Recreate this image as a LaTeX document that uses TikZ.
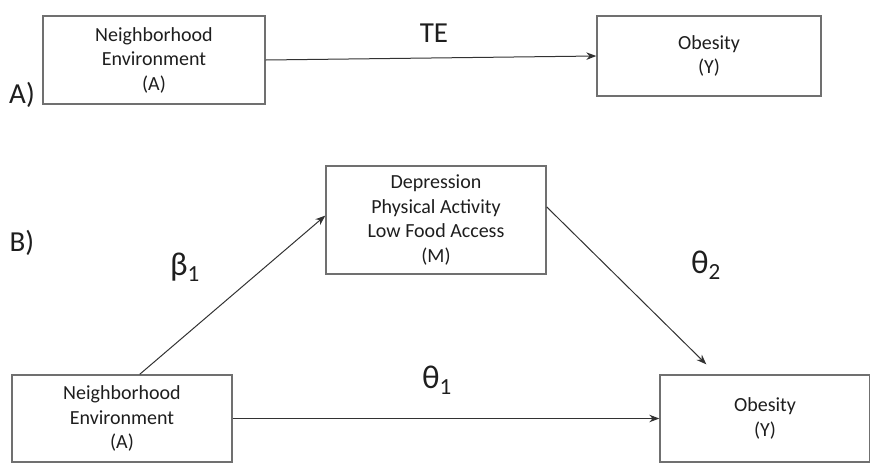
\documentclass[tikz,border=0pt]{standalone}
\usepackage{fontspec}
\setmainfont{Carlito}
\usetikzlibrary{arrows.meta,calc}
\definecolor{boxline}{RGB}{112,112,112}
\definecolor{txt}{RGB}{30,30,30}
\definecolor{arr}{RGB}{50,50,50}
\tikzset{
  box/.style={draw=boxline,line width=1.4pt,rectangle,align=center,text=txt,font=\fontsize{20}{24.5}\selectfont,inner sep=0pt},
  conn/.style={draw=arr,line width=1pt,-{Stealth[length=10pt,width=7.5pt]}},
  biglabel/.style={text=txt,font=\fontsize{29}{32}\selectfont},
  greek/.style={text=txt,font=\fontsize{33}{36}\selectfont},
}
\begin{document}
\begin{tikzpicture}[x=1pt,y=-1pt]
\useasboundingbox (0,0) rectangle (870,464);
% Part A
\node[box,minimum width=222pt,minimum height=88pt] (A1) at (154,60) {Neighborhood\\Environment\\(A)};
\node[box,minimum width=224pt,minimum height=80pt] (Y1) at (709,56) {Obesity\\(Y)};
\node[biglabel] (TE) at (434,33) {TE};
\node[biglabel] (lA) at (22,95) {A)};
\draw[conn] (A1.east) -- (Y1.west);
% Part B
\node[biglabel] (lB) at (22,243) {B)};
\node[box,minimum width=220pt,minimum height=108pt] (M) at (436,220) {Depression\\Physical Activity\\Low Food Access\\(M)};
\node[box,minimum width=220pt,minimum height=87pt] (A2) at (122,418.5) {Neighborhood\\Environment\\(A)};
\node[box,minimum width=210pt,minimum height=87pt] (Y2) at (765,418.5) {Obesity\\(Y)};
\coordinate (Yin) at ($(Y2.north west)+(47,-10)$);
\draw[conn] ($(A2.north west)!0.58!(A2.north east)$) -- ($(M.north west)!0.46!(M.south west)$);
\draw[conn] ($(M.north east)!0.38!(M.south east)$) -- (Yin);
\draw[conn] (A2.east) -- (Y2.west);
\node[greek] (b1) at (185,267) {β\textsubscript{1}};
\node[greek] (t2) at (706,265) {θ\textsubscript{2}};
\node[greek] (t1) at (437,380) {θ\textsubscript{1}};
\end{tikzpicture}
\end{document}
